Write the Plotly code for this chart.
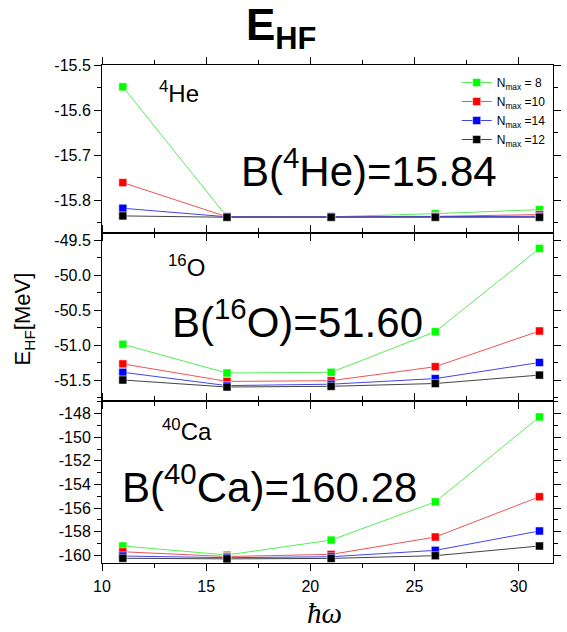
import plotly.graph_objects as go
from plotly.subplots import make_subplots

# ---------------- data ----------------
hw = [11, 16, 21, 26, 31]
series_names = ["N<sub>max</sub> = 8", "N<sub>max</sub> =10", "N<sub>max</sub> =14", "N<sub>max</sub> =12"]
series_colors = ["#00ff00", "#ff0000", "#0000ff", "#000000"]
line_colors = ["#55ee55", "#ee5555", "#4444ee", "#444444"]

he4 = [
    [-15.548, -15.837, -15.837, -15.830, -15.821],
    [-15.761, -15.837, -15.837, -15.836, -15.832],
    [-15.818, -15.837, -15.837, -15.837, -15.836],
    [-15.835, -15.838, -15.838, -15.838, -15.838],
]
o16 = [
    [-50.99, -51.40, -51.39, -50.81, -49.62],
    [-51.27, -51.52, -51.51, -51.31, -50.80],
    [-51.39, -51.58, -51.56, -51.48, -51.25],
    [-51.50, -51.60, -51.59, -51.55, -51.43],
]
ca40 = [
    [-159.21, -159.97, -158.71, -155.47, -148.28],
    [-159.70, -160.10, -159.92, -158.45, -155.04],
    [-160.06, -160.20, -160.12, -159.58, -157.94],
    [-160.25, -160.30, -160.26, -160.03, -159.21],
]
panels = [he4, o16, ca40]

x_tickvals = [10, 15, 20, 25, 30]
x_ticktext = ["10", "15", "20", "25", "30"]
y1_tickvals = [-15.5, -15.6, -15.7, -15.8]
y1_ticktext = ["-15.5", "-15.6", "-15.7", "-15.8"]
y2_tickvals = [-49.5, -50.0, -50.5, -51.0, -51.5]
y2_ticktext = ["-49.5", "-50.0", "-50.5", "-51.0", "-51.5"]
y3_tickvals = [-148, -150, -152, -154, -156, -158, -160]
y3_ticktext = ["-148", "-150", "-152", "-154", "-156", "-158", "-160"]

# ---------------- layout geometry ----------------
W, H = 567, 632
L, R, T, B = 102, 6, 65, 69
PW, PH = W - L - R, H - T - B


def px(x):
    return (x - L) / PW


def py(y):
    return (H - B - y) / PH


fig = make_subplots(rows=3, cols=1, shared_xaxes=True, vertical_spacing=0,
                    row_heights=[168, 168, 162])

for r, pdata in enumerate(panels, start=1):
    for i, vals in enumerate(pdata):
        fig.add_trace(go.Scatter(
            x=hw, y=vals, mode="lines+markers",
            name=series_names[i], legendgroup=series_names[i],
            showlegend=(r == 1),
            line=dict(color=line_colors[i], width=1),
            marker=dict(symbol="square", size=8, color=series_colors[i],
                        line=dict(color="white", width=0.5)),
        ), row=r, col=1)

FONT = "Arial, Liberation Sans, sans-serif"
axis_common = dict(showline=True, linecolor="black", linewidth=1, mirror="ticks",
                   ticks="outside", ticklen=7, tickwidth=1, tickcolor="black",
                   showgrid=False, zeroline=False,
                   tickfont=dict(family=FONT, size=16, color="black"))

for r in range(1, 4):
    fig.update_xaxes(range=[10, 10 + PW / 21.2], tickmode="array",
                     tickvals=x_tickvals, ticktext=x_ticktext, ticklabelstandoff=2,
                     minor=dict(tickmode="linear", tick0=10, dtick=2.5, ticks="outside",
                                ticklen=4, tickcolor="black"),
                     row=r, col=1, **axis_common)

fig.update_yaxes(range=[-15.873, -15.4995], tickmode="array", tickvals=y1_tickvals,
                 ticktext=y1_ticktext,
                 minor=dict(tickmode="linear", tick0=-15.5, dtick=0.05, ticks="outside",
                            ticklen=4, tickcolor="black"),
                 row=1, col=1, **axis_common)
fig.update_yaxes(range=[-51.8, -49.4], tickmode="array", tickvals=y2_tickvals,
                 ticktext=y2_ticktext,
                 minor=dict(tickmode="linear", tick0=-49.5, dtick=0.25, ticks="outside",
                            ticklen=4, tickcolor="black"),
                 row=2, col=1, **axis_common)
fig.update_yaxes(range=[-160.65, -146.93], tickmode="array", tickvals=y3_tickvals,
                 ticktext=y3_ticktext,
                 minor=dict(tickmode="linear", tick0=-148, dtick=1, ticks="outside",
                            ticklen=4, tickcolor="black"),
                 row=3, col=1, **axis_common)

ann = []
# title
ann.append(dict(text="<b>E<sub>HF</sub></b>", x=px(284), y=py(28), xref="paper", yref="paper",
                xanchor="center", yanchor="middle", showarrow=False,
                font=dict(family=FONT, size=44, color="black")))
# isotope labels
for txt, xx, yy in [("<sup>4</sup>He", 158, 92), ("<sup>16</sup>O", 167, 266),
                    ("<sup>40</sup>Ca", 161, 430)]:
    ann.append(dict(text=txt, x=px(xx), y=py(yy), xref="paper", yref="paper",
                    xanchor="left", yanchor="middle", showarrow=False,
                    font=dict(family=FONT, size=24, color="black")))
# binding energies
for txt, xx, yy in [("B(<sup>4</sup>He)=15.84", 241, 168), ("B(<sup>16</sup>O)=51.60", 171, 319),
                    ("B(<sup>40</sup>Ca)=160.28", 120, 484)]:
    ann.append(dict(text=txt, x=px(xx), y=py(yy), xref="paper", yref="paper",
                    xanchor="left", yanchor="middle", showarrow=False,
                    font=dict(family=FONT, size=42, color="black")))
# axis titles
ann.append(dict(text="E<sub>HF</sub>[MeV]", x=px(23), y=py(319), xref="paper", yref="paper",
                xanchor="center", yanchor="middle", textangle=-90, showarrow=False,
                font=dict(family=FONT, size=22, color="black")))
ann.append(dict(text="<i>ħω</i>", x=px(328), y=py(631), xref="paper", yref="paper",
                xanchor="center", yanchor="bottom", showarrow=False,
                font=dict(family="Liberation Serif, Times New Roman, serif", size=29, color="black")))

fig.update_layout(
    width=W, height=H, autosize=False,
    margin=dict(l=L, r=R, t=T, b=B, pad=0),
    paper_bgcolor="white", plot_bgcolor="white",
    annotations=ann,
    legend=dict(x=px(463), y=py(68), xanchor="left", yanchor="top",
                bgcolor="rgba(0,0,0,0)", borderwidth=0, tracegroupgap=0,
                font=dict(family=FONT, size=12, color="black")),
    showlegend=True,
)

fig.write_html("out.html")
